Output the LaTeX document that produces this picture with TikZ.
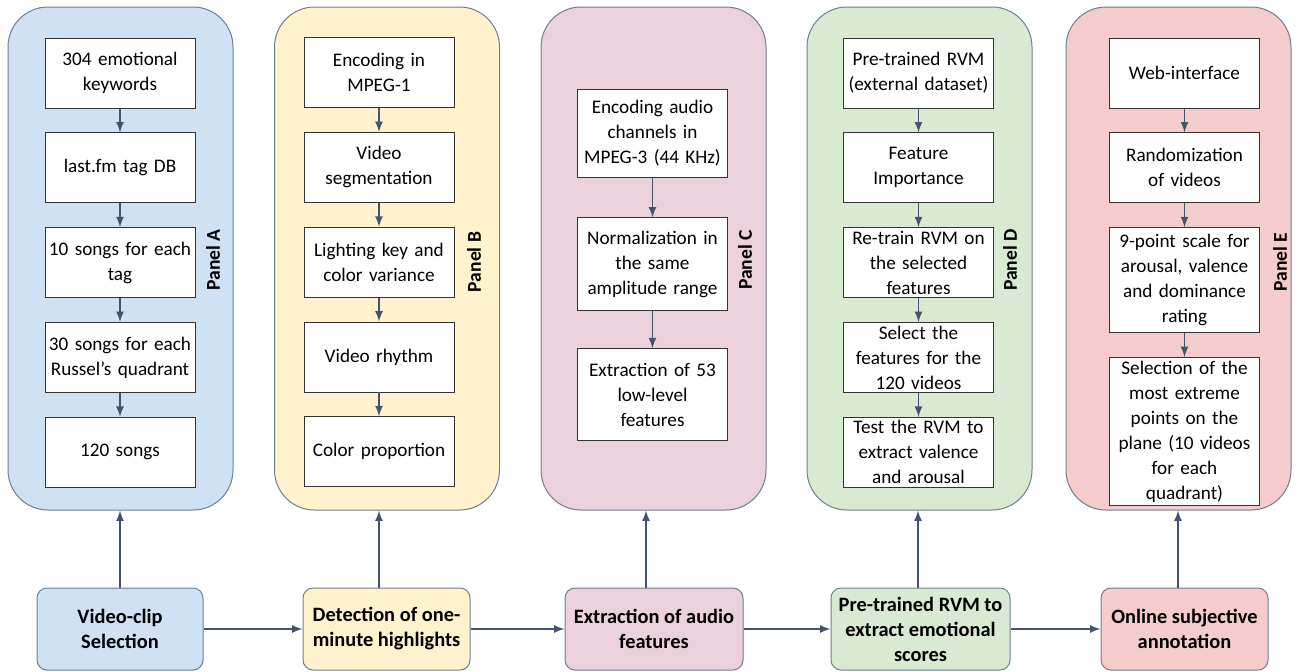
\documentclass[tikz,border=0pt]{standalone}
\usepackage{fontspec}
\setmainfont{Carlito}
\usepackage{tikz}
\usetikzlibrary{arrows, shapes, positioning, calc}
\definecolor{bleu}{HTML}{CFE2F3}
\definecolor{jaune}{HTML}{FFF2CC}
\definecolor{mauve}{HTML}{EAD1DC}
\definecolor{vertclair}{HTML}{D9EAD3}
\definecolor{rose}{HTML}{F4CCCC}
\definecolor{ardoise}{HTML}{44546A}
\definecolor{bord}{HTML}{6F7D8E}
\tikzstyle{panneau} = [rectangle, rounded corners = 20pt, minimum width = 112.5pt, minimum height = 251.5pt, draw = bord, line width = 0.5pt]
\tikzstyle{etape} = [rectangle, minimum width = 75pt, minimum height = 35pt, text width = 74pt, align = center, draw = black!80, fill = white, line width = 0.4pt, inner sep = 0.5pt, font = \fontsize{9.6}{12.5}\selectfont]
\tikzstyle{bloc} = [rectangle, rounded corners = 5pt, minimum height = 41pt, align = center, draw = bord, line width = 0.5pt, font = \fontsize{10.2}{12.5}\selectfont\bfseries]
\tikzstyle{titre} = [rotate = 90, font = \fontsize{9.8}{12.5}\selectfont\bfseries]
\tikzstyle{fleche} = [-latex, draw = ardoise, line width = 0.8pt]

\begin{document}
\begin{tikzpicture}[x = 0.5pt, y = -0.5pt, node distance = 12pt]

\useasboundingbox (0,0) rectangle (1297,671);

% panneaux
\node (pa) [panneau, fill = bleu]      at (120.5, 258.5) {};
\node (pb) [panneau, fill = jaune]     at (387, 258.5)   {};
\node (pc) [panneau, fill = mauve]     at (653.5, 258.5) {};
\node (pd) [panneau, fill = vertclair] at (919.5, 258.5) {};
\node (pe) [panneau, fill = rose]      at (1178.5, 258.5) {};

\node (ta) [titre] at (213, 260)  {Panel A};
\node (tb) [titre] at (474, 262)  {Panel B};
\node (tc) [titre] at (745, 260)  {Panel C};
\node (td) [titre] at (1010, 260) {Panel D};
\node (te) [titre] at (1280, 262) {Panel E};

% panel A
\node (a1) [etape] at (120, 73) {304 emotional\\keywords};
\node (a2) [etape, below = of a1] {last.fm tag DB};
\node (a3) [etape, below = of a2] {10 songs for each\\tag};
\node (a4) [etape, below = of a3] {30 songs for each\\Russel’s quadrant};
\node (a5) [etape, below = of a4] {120 songs};

% panel B
\node (b1) [etape] at (379, 72.5) {Encoding in\\MPEG-1};
\node (b2) [etape, below = of b1] {Video\\segmentation};
\node (b3) [etape, below = of b2] {Lighting key and\\color variance};
\node (b4) [etape, below = of b3] {Video rhythm};
\node (b5) [etape, below = of b4] {Color proportion};

% panel C
\node (c1) [etape, minimum height = 44pt] at (652.5, 133) {Encoding audio\\channels in\\MPEG-3 (44 KHz)};
\node (c2) [etape, minimum height = 46.5pt, below = 20pt of c1] {Normalization in\\the same\\amplitude range};
\node (c3) [etape, minimum height = 46pt, below = 18.5pt of c2] {Extraction of 53\\low-level\\features};

% panel D
\node (d1) [etape] at (918.5, 73) {Pre-trained RVM\\(external dataset)};
\node (d2) [etape, below = of d1] {Feature\\Importance};
\node (d3) [etape, below = of d2] {Re-train RVM on\\the selected\\features};
\node (d4) [etape, below = of d3] {Select the\\features for the\\120 videos};
\node (d5) [etape, below = of d4] {Test the RVM to\\extract valence\\and arousal};

% panel E
\node (e1) [etape] at (1184.5, 73) {Web-interface};
\node (e2) [etape, below = of e1] {Randomization\\of videos};
\node (e3) [etape, minimum height = 52.5pt, below = of e2] {9-point scale for\\arousal, valence\\and dominance\\rating};
\node (e4) [etape, minimum height = 74pt, below = of e3] {Selection of the\\most extreme\\points on the\\plane (10 videos\\for each\\quadrant)};

% blocs du bas
\node (sa) [bloc, fill = bleu,      minimum width = 83pt]   at (120, 629)    {Video-clip\\Selection};
\node (sb) [bloc, fill = jaune,     minimum width = 83.5pt] at (386.5, 629)  {Detection of one-\\minute highlights};
\node (sc) [bloc, fill = mauve,     minimum width = 89pt]   at (654, 629)    {Extraction of audio\\features};
\node (sd) [bloc, fill = vertclair, minimum width = 89.5pt] at (920.5, 629)  {Pre-trained RVM to\\extract emotional\\scores};
\node (se) [bloc, fill = rose,      minimum width = 83.5pt] at (1184.5, 629) {Online subjective\\annotation};

\foreach \i/\j in {a1/a2, a2/a3, a3/a4, a4/a5, b1/b2, b2/b3, b3/b4, b4/b5, c1/c2, c2/c3, d1/d2, d2/d3, d3/d4, d4/d5, e1/e2, e2/e3, e3/e4}
  \draw[fleche] (\i) -- (\j);

\draw[fleche] (sa) -- (sb);
\draw[fleche] (sb) -- (sc);
\draw[fleche] (sc) -- (sd);
\draw[fleche] (sd) -- (se);

\draw[fleche] (sa.north) -- (sa.north |- pa.south);
\draw[fleche] ($(sb.north)+(-7.5,0)$) -- ($(sb.north |- pb.south)+(-7.5,0)$);
\draw[fleche] ($(sc.north)+(-8,0)$) -- ($(sc.north |- pc.south)+(-8,0)$);
\draw[fleche] ($(sd.north)+(-2.5,0)$) -- ($(sd.north |- pd.south)+(-2.5,0)$);
\draw[fleche] ($(se.north)+(-6.5,0)$) -- ($(se.north |- pe.south)+(-6.5,0)$);

\end{tikzpicture}
\end{document}
